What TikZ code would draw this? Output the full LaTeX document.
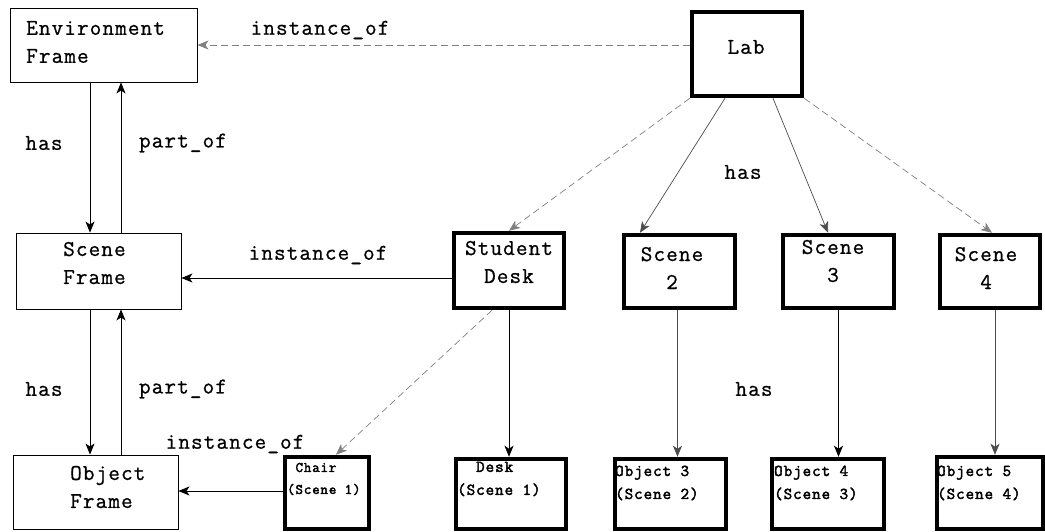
\documentclass[tikz,border=0pt]{standalone}
\usepackage{fontspec}
\setmonofont{Latin Modern Mono}[LetterSpace=5, FakeBold=0.8]
\newfontfamily\boxmono{Latin Modern Mono}[LetterSpace=6, FakeBold=2.5]
\usetikzlibrary{arrows.meta}
\begin{document}
\begin{tikzpicture}[x=1pt,y=-1pt,
  every node/.style={font=\ttfamily\fontsize{22.5}{28}\selectfont, inner sep=0pt},
  framebox/.style={draw, line width=0.9pt, inner sep=0pt},
  instbox/.style={draw, line width=4.5pt, inner sep=0pt},
  small/.style={font=\boxmono\fontsize{16.5}{23}\selectfont},
  tiny/.style={font=\boxmono\fontsize{14.5}{22}\selectfont},
  link/.style={line width=0.7pt, -{Stealth[length=11pt,width=9pt,inset=3pt]}},
  dlink/.style={link, gray, dash pattern=on 7pt off 4pt},
  glink/.style={link, black!70}]
\useasboundingbox (0,0) rectangle (1045,531);

% frame boxes (thin)
\node[framebox, minimum width=187, minimum height=74] (env) at (103.5,45) {};
\node[framebox, minimum width=165, minimum height=76] (scf) at (98.5,271) {};
\node[framebox, minimum width=165, minimum height=74] (obf) at (95.5,492) {};

% instance boxes (thick)
\node[instbox, minimum width=110, minimum height=84] (lab) at (747,54) {};
\node[instbox, minimum width=110, minimum height=75] (sd) at (509,270.5) {};
\node[instbox, minimum width=111, minimum height=73] (s2) at (679.5,271.5) {};
\node[instbox, minimum width=111, minimum height=73] (s3) at (838.5,271.5) {};
\node[instbox, minimum width=100, minimum height=73] (s4) at (990,271.5) {};
\node[instbox, minimum width=84, minimum height=72] (chair) at (327,493) {};
\node[instbox, minimum width=110, minimum height=70] (desk) at (511,494) {};
\node[instbox, minimum width=111, minimum height=70] (o3) at (670.5,494) {};
\node[instbox, minimum width=112, minimum height=70] (o4) at (828,494) {};
\node[instbox, minimum width=106, minimum height=72] (o5) at (990,493) {};

% box texts
\node[align=left, anchor=west] (tenv) at (26,42) {Environment\\Frame};
\node[align=left, anchor=west] (tscf) at (63,263) {Scene\\Frame};
\node[align=left, anchor=west] (tobf) at (70,487) {Object\\Frame};
\node (tlab) at (746,47) {Lab};
\node[align=center] (tsd) at (509,262) {Student\\Desk};
\node[align=center] (ts2) at (672,268) {Scene\\2};
\node[align=center] (ts3) at (833,261) {Scene\\3};
\node[align=center] (ts4) at (986,268) {Scene\\4};
\node[tiny, align=left, anchor=west] (tch) at (287,479) {~Chair\\(Scene 1)};
\node[small, align=left, anchor=west] (tdk) at (457,479) {~~Desk\\(Scene 1)};
\node[small, align=left, anchor=west] (to3) at (615,483) {Object 3\\(Scene 2)};
\node[small, align=left, anchor=west] (to4) at (774,483) {Object 4\\(Scene 3)};
\node[small, align=left, anchor=west] (to5) at (937,483) {Object 5\\(Scene 4)};

% edge labels
\node (l1) at (320,30) {instance\_of};
\node (l2) at (44,143) {has};
\node (l3) at (183,143) {part\_of};
\node (l4) at (743,172) {has};
\node (l5) at (318,255) {instance\_of};
\node (l6) at (44,389) {has};
\node (l7) at (183,389) {part\_of};
\node (l8) at (754,389) {has};
\node (l9) at (235,444) {instance\_of};

% helper coordinates for vertical and horizontal runs
\coordinate (xd) at (90,0);
\coordinate (xu) at (121,0);
\coordinate (ya) at (0,278);
\coordinate (yb) at (0,491);

% connectors
\draw[dlink] (lab.west |- env.east) -- (env.east);
\draw[link] (env.south -| xd) -- (scf.north -| xd);
\draw[link] (scf.north -| xu) -- (env.south -| xu);
\draw[link] (scf.south -| xd) -- (obf.north -| xd);
\draw[link] (obf.north -| xu) -- (scf.south -| xu);
\draw[link] (sd.west |- ya) -- (scf.east |- ya);
\draw[link] (chair.west |- yb) -- (obf.east |- yb);

\draw[dlink] (lab.south west) -- (sd.north);
\draw[glink] ([xshift=-22pt]lab.south) -- ([xshift=-39.5pt]s2.north);
\draw[glink] ([xshift=26pt]lab.south) -- ([xshift=-10.5pt]s3.north);
\draw[dlink] (lab.south east) -- ([xshift=2pt]s4.north);

\draw[link] (sd.south) -- (sd.south |- desk.north);
\draw[dlink] ([xshift=-17pt]sd.south) -- ([xshift=9pt]chair.north);
\draw[glink] ([xshift=-2pt]s2.south) -- ([xshift=-2pt]s2.south |- o3.north);
\draw[link] (s3.south) -- (s3.south |- o4.north);
\draw[glink] ([xshift=5pt]s4.south) -- ([xshift=5pt]s4.south |- o5.north);
\end{tikzpicture}
\end{document}
